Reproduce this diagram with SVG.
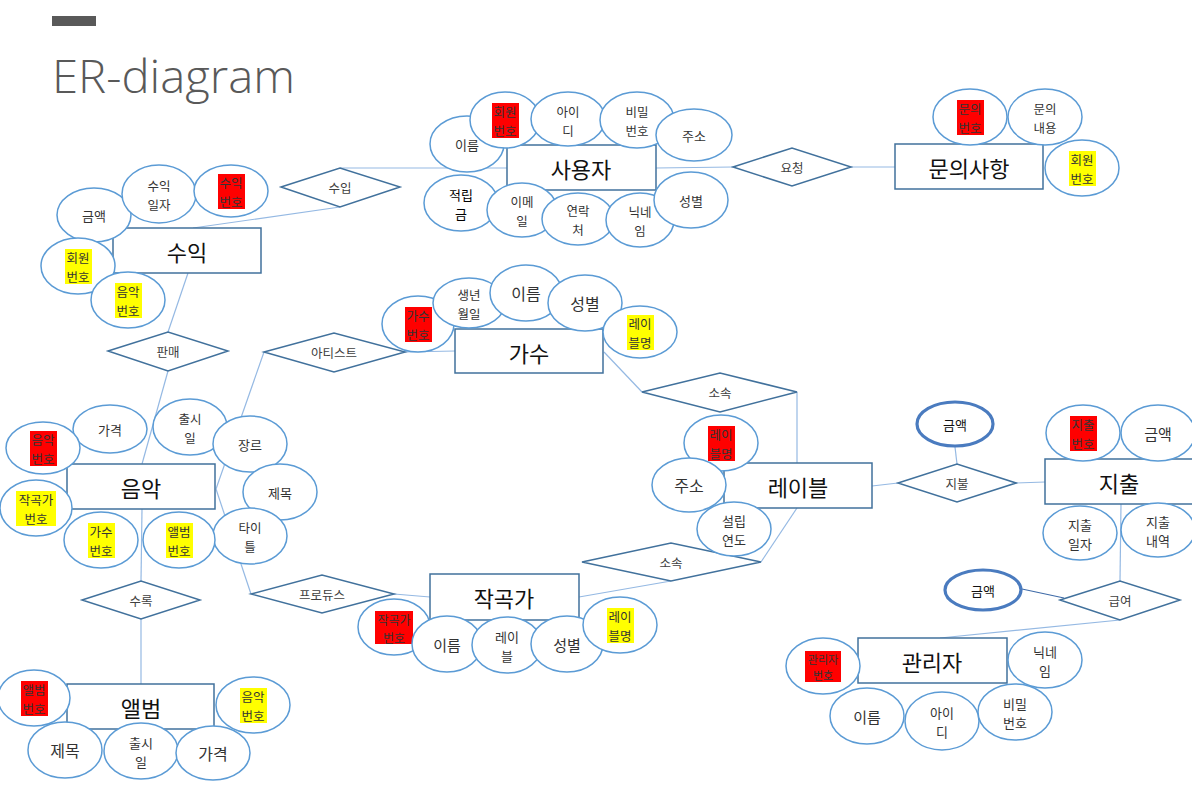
<svg xmlns="http://www.w3.org/2000/svg" width="1192" height="794" viewBox="0 0 1192 794">
<style>
text{font-family:"Noto Sans CJK KR","Noto Sans",sans-serif;text-anchor:middle;dominant-baseline:central}
tspan{dominant-baseline:central}
.ent rect{fill:#fff;stroke:#41719C;stroke-width:1.5}
.ent text{font-size:22px;fill:#111}
.rel polygon{fill:#fff;stroke:#41719C;stroke-width:1.5}
.rel text{font-size:12.5px;fill:#404040}
.att ellipse{fill:#fff;stroke:#5B9BD5;stroke-width:1.5}
.att text{fill:#333}
.att text.two{font-size:12.5px}
.att ellipse.thick{stroke:#4A7BBF;stroke-width:3.2}
.s13 text{font-size:13px}
.s15 text{font-size:15px}
.s16 text{font-size:16px}
.red{fill:#FF0000}
.yel{fill:#FFFF00}
#connectors line{stroke:#95B9E3;stroke-width:1.2}
#connectors line.dark{stroke:#3F6BA8}
</style>
<rect x="0" y="0" width="1192" height="794" fill="#fff"/>
<rect x="52" y="16" width="44" height="10" fill="#595959"/>
<text x="52" y="75" style="text-anchor:start;font-family:'Open Sans','Noto Sans',sans-serif;font-size:46px;font-weight:300;fill:#595959" textLength="243" lengthAdjust="spacingAndGlyphs">ER-diagram</text>

<g id="connectors">
<line x1="340" y1="168" x2="507" y2="168"/>
<line x1="193" y1="228" x2="340" y2="207"/>
<line x1="656" y1="168" x2="733" y2="167"/>
<line x1="851" y1="167" x2="895" y2="167"/>
<line x1="188" y1="273" x2="168" y2="332"/>
<line x1="168" y1="371" x2="142" y2="464"/>
<line x1="405" y1="352" x2="455" y2="351"/>
<line x1="264" y1="352" x2="216" y2="489"/>
<line x1="216" y1="489" x2="251" y2="594"/>
<line x1="394" y1="594" x2="430" y2="597"/>
<line x1="604" y1="352" x2="642" y2="392"/>
<line x1="797" y1="392" x2="797" y2="463"/>
<line x1="797" y1="508" x2="761" y2="562"/>
<line x1="671" y1="581" x2="579" y2="597"/>
<line x1="142" y1="509" x2="141" y2="581"/>
<line x1="141" y1="619" x2="141" y2="684"/>
<line x1="872" y1="486" x2="898" y2="483"/>
<line x1="955" y1="447" x2="957" y2="464"/>
<line x1="1016" y1="483" x2="1045" y2="482"/>
<line x1="1121" y1="504" x2="1120" y2="581"/>
<line class="dark" x1="1022" y1="589" x2="1064" y2="598"/>
<line x1="1120" y1="620" x2="940" y2="638"/>
</g>

<!-- relationships -->
<g id="rel-suip" class="rel"><polygon points="281,187 340,168 400,187 340,207"/><text x="340" y="187">수입</text></g>
<g id="rel-yocheong" class="rel"><polygon points="733,167 792,148 851,167 792,186"/><text x="792" y="167">요청</text></g>
<g id="rel-panmae" class="rel"><polygon points="108,351 168,332 228,351 168,371"/><text x="168" y="351">판매</text></g>
<g id="rel-artist" class="rel"><polygon points="264,352 334,333 405,352 334,372"/><text x="334" y="352">아티스트</text></g>
<g id="rel-sosok1" class="rel"><polygon points="642,392 720,373 797,392 720,412"/><text x="720" y="392">소속</text></g>
<g id="rel-sosok2" class="rel"><polygon points="582,562 671,543 761,562 671,581"/><text x="671" y="562">소속</text></g>
<g id="rel-produce" class="rel"><polygon points="251,594 322,575 394,594 322,613"/><text x="322" y="594">프로듀스</text></g>
<g id="rel-surok" class="rel"><polygon points="82,600 141,581 200,600 141,619"/><text x="141" y="600">수록</text></g>
<g id="rel-jibul" class="rel"><polygon points="898,483 957,464 1016,483 957,502"/><text x="957" y="483">지불</text></g>
<g id="rel-geubyeo" class="rel"><polygon points="1060,600 1120,581 1180,600 1120,620"/><text x="1120" y="600">급여</text></g>

<!-- entities -->
<g id="ent-user" class="ent"><rect x="507" y="145" width="149" height="45"/><text x="581" y="168">사용자</text></g>
<g id="ent-inquiry" class="ent"><rect x="895" y="144" width="148" height="45"/><text x="969" y="167">문의사항</text></g>
<g id="ent-revenue" class="ent"><rect x="113" y="228" width="148" height="45"/><text x="187" y="251">수익</text></g>
<g id="ent-singer" class="ent"><rect x="455" y="329" width="148" height="44"/><text x="529" y="352">가수</text></g>
<g id="ent-music" class="ent"><rect x="67" y="464" width="148" height="45"/><text x="141" y="487">음악</text></g>
<g id="ent-label" class="ent"><rect x="724" y="463" width="148" height="45"/><text x="798" y="486">레이블</text></g>
<g id="ent-expense" class="ent"><rect x="1045" y="459" width="152" height="45"/><text x="1119" y="482">지출</text></g>
<g id="ent-composer" class="ent"><rect x="430" y="574" width="149" height="46"/><text x="504" y="597">작곡가</text></g>
<g id="ent-admin" class="ent"><rect x="858" y="638" width="149" height="45"/><text x="932" y="661">관리자</text></g>
<g id="ent-album" class="ent"><rect x="67" y="684" width="147" height="45"/><text x="141" y="707">앨범</text></g>

<!-- user attributes -->
<g id="user-name" class="att s13"><ellipse cx="467" cy="144" rx="37" ry="28"/><text x="467" y="144">이름</text></g>
<g id="user-id-no" class="att"><ellipse cx="505" cy="120" rx="35" ry="28"/><rect class="red" x="492" y="103" width="27" height="35"/><text class="two" x="505" y="111">회원<tspan x="505" y="129.5">번호</tspan></text></g>
<g id="user-login" class="att"><ellipse cx="568" cy="119" rx="37" ry="27"/><text class="two" x="568" y="111">아이<tspan x="568" y="129.5">디</tspan></text></g>
<g id="user-pw" class="att"><ellipse cx="637" cy="120" rx="37" ry="28"/><text class="two" x="637" y="111">비밀<tspan x="637" y="129.5">번호</tspan></text></g>
<g id="user-addr" class="att s13"><ellipse cx="694" cy="135" rx="38" ry="26"/><text x="694" y="135">주소</text></g>
<g id="user-point" class="att"><ellipse cx="461" cy="203" rx="37" ry="28"/><text class="two" x="461" y="194" style="fill:#000;font-size:13px">적립<tspan x="461" y="213">금</tspan></text></g>
<g id="user-email" class="att"><ellipse cx="522" cy="210" rx="35" ry="27"/><text class="two" x="522" y="201">이메<tspan x="522" y="219.5">일</tspan></text></g>
<g id="user-phone" class="att"><ellipse cx="578" cy="219" rx="36" ry="26"/><text class="two" x="578" y="210">연락<tspan x="578" y="228.5">처</tspan></text></g>
<g id="user-nick" class="att"><ellipse cx="640" cy="220" rx="34" ry="27"/><text class="two" x="640" y="211">닉네<tspan x="640" y="229.5">임</tspan></text></g>
<g id="user-gender" class="att s13"><ellipse cx="691" cy="200" rx="37" ry="28"/><text x="691" y="200">성별</text></g>

<!-- inquiry attributes -->
<g id="inq-no" class="att"><ellipse cx="970" cy="117" rx="37" ry="28"/><rect class="red" x="957" y="100" width="27" height="35"/><text class="two" x="970" y="108">문의<tspan x="970" y="126.5">번호</tspan></text></g>
<g id="inq-content" class="att"><ellipse cx="1045" cy="117" rx="37" ry="28"/><text class="two" x="1045" y="108">문의<tspan x="1045" y="126.5">내용</tspan></text></g>
<g id="inq-member" class="att"><ellipse cx="1082" cy="168" rx="37" ry="28"/><rect class="yel" x="1069" y="151" width="27" height="35"/><text class="two" x="1082" y="159">회원<tspan x="1082" y="177.5">번호</tspan></text></g>

<!-- revenue attributes -->
<g id="rev-amount" class="att s13"><ellipse cx="94" cy="215" rx="37" ry="27"/><text x="94" y="215">금액</text></g>
<g id="rev-date" class="att"><ellipse cx="159" cy="194" rx="37" ry="29"/><text class="two" x="159" y="185">수익<tspan x="159" y="203.5">일자</tspan></text></g>
<g id="rev-no" class="att"><ellipse cx="231" cy="191" rx="37" ry="26"/><rect class="red" x="218" y="174" width="27" height="35"/><text class="two" x="231" y="182">수익<tspan x="231" y="200.5">번호</tspan></text></g>
<g id="rev-member" class="att"><ellipse cx="78" cy="266" rx="37" ry="28"/><rect class="yel" x="65" y="249" width="27" height="35"/><text class="two" x="78" y="257">회원<tspan x="78" y="275.5">번호</tspan></text></g>
<g id="rev-music" class="att"><ellipse cx="128" cy="300" rx="37" ry="28"/><rect class="yel" x="115" y="283" width="27" height="35"/><text class="two" x="128" y="291">음악<tspan x="128" y="309.5">번호</tspan></text></g>

<!-- singer attributes -->
<g id="sing-no" class="att"><ellipse cx="418" cy="324" rx="36" ry="28"/><rect class="red" x="405" y="307" width="27" height="35"/><text class="two" x="418" y="315">가수<tspan x="418" y="333.5">번호</tspan></text></g>
<g id="sing-birth" class="att"><ellipse cx="469" cy="303" rx="36" ry="25"/><text class="two" x="469" y="294">생년<tspan x="469" y="312.5">월일</tspan></text></g>
<g id="sing-name" class="att s16"><ellipse cx="526" cy="293" rx="36" ry="28"/><text x="526" y="293">이름</text></g>
<g id="sing-gender" class="att s16"><ellipse cx="585" cy="303" rx="37" ry="28"/><text x="585" y="303">성별</text></g>
<g id="sing-label" class="att"><ellipse cx="640" cy="332" rx="37" ry="26"/><rect class="yel" x="627" y="315" width="27" height="35"/><text class="two" x="640" y="323">레이<tspan x="640" y="341.5">블명</tspan></text></g>

<!-- music attributes -->
<g id="mus-price" class="att s13"><ellipse cx="110" cy="429" rx="37" ry="24"/><text x="110" y="429">가격</text></g>
<g id="mus-no" class="att"><ellipse cx="43" cy="448" rx="37" ry="26"/><rect class="red" x="30" y="431" width="27" height="35"/><text class="two" x="43" y="439">음악<tspan x="43" y="457.5">번호</tspan></text></g>
<g id="mus-release" class="att"><ellipse cx="190" cy="427" rx="37" ry="28"/><text class="two" x="190" y="418">출시<tspan x="190" y="436.5">일</tspan></text></g>
<g id="mus-genre" class="att s13"><ellipse cx="250" cy="444" rx="37" ry="28"/><text x="250" y="444">장르</text></g>
<g id="mus-title" class="att s13"><ellipse cx="280" cy="492" rx="37" ry="28"/><text x="280" y="492">제목</text></g>
<g id="mus-titletrack" class="att"><ellipse cx="250" cy="536" rx="37" ry="28"/><text class="two" x="250" y="527">타이<tspan x="250" y="545.5">틀</tspan></text></g>
<g id="mus-album" class="att"><ellipse cx="179" cy="540" rx="36" ry="28"/><rect class="yel" x="166" y="523" width="27" height="35"/><text class="two" x="179" y="531">앨범<tspan x="179" y="549.5">번호</tspan></text></g>
<g id="mus-singer" class="att"><ellipse cx="101" cy="540" rx="37" ry="28"/><rect class="yel" x="88" y="523" width="27" height="35"/><text class="two" x="101" y="531">가수<tspan x="101" y="549.5">번호</tspan></text></g>
<g id="mus-composer" class="att"><ellipse cx="36" cy="508" rx="36" ry="28"/><rect class="yel" x="16" y="491" width="40" height="35"/><text class="two" x="36" y="499">작곡가<tspan x="36" y="517.5">번호</tspan></text></g>

<!-- album attributes -->
<g id="alb-no" class="att"><ellipse cx="34" cy="698" rx="36" ry="28"/><rect class="red" x="21" y="681" width="27" height="35"/><text class="two" x="34" y="689">앨범<tspan x="34" y="707.5">번호</tspan></text></g>
<g id="alb-music" class="att"><ellipse cx="253" cy="705" rx="37" ry="28"/><rect class="yel" x="240" y="688" width="27" height="35"/><text class="two" x="253" y="696">음악<tspan x="253" y="714.5">번호</tspan></text></g>
<g id="alb-title" class="att s16"><ellipse cx="65" cy="750" rx="37" ry="28"/><text x="65" y="750">제목</text></g>
<g id="alb-release" class="att"><ellipse cx="141" cy="751" rx="37" ry="28"/><text class="two" x="141" y="742" style="font-size:13px">출시<tspan x="141" y="761">일</tspan></text></g>
<g id="alb-price" class="att s16"><ellipse cx="213" cy="753" rx="37" ry="27"/><text x="213" y="753">가격</text></g>

<!-- label attributes -->
<g id="lab-name" class="att"><ellipse cx="721" cy="443" rx="37" ry="28"/><rect class="red" x="708" y="426" width="27" height="35"/><text class="two" x="721" y="434">레이<tspan x="721" y="452.5">블명</tspan></text></g>
<g id="lab-addr" class="att s16"><ellipse cx="689" cy="485" rx="37" ry="27"/><text x="689" y="485">주소</text></g>
<g id="lab-year" class="att"><ellipse cx="734" cy="529" rx="37" ry="27"/><text class="two" x="734" y="520" style="font-size:13px">설립<tspan x="734" y="539">연도</tspan></text></g>
<g id="pay-amount" class="att s13"><ellipse class="thick" cx="955" cy="424" rx="38" ry="22"/><text x="955" y="424" style="fill:#111">금액</text></g>

<!-- expense attributes -->
<g id="exp-no" class="att"><ellipse cx="1083" cy="433" rx="37" ry="28"/><rect class="red" x="1070" y="416" width="27" height="35"/><text class="two" x="1083" y="424">지출<tspan x="1083" y="442.5">번호</tspan></text></g>
<g id="exp-amount" class="att s15"><ellipse cx="1158" cy="433" rx="37" ry="28"/><text x="1158" y="433">금액</text></g>
<g id="exp-date" class="att"><ellipse cx="1080" cy="533" rx="37" ry="27"/><text class="two" x="1080" y="524" style="font-size:13px">지출<tspan x="1080" y="543">일자</tspan></text></g>
<g id="exp-detail" class="att"><ellipse cx="1158" cy="530" rx="37" ry="27"/><text class="two" x="1158" y="521" style="font-size:13px">지출<tspan x="1158" y="540">내역</tspan></text></g>

<!-- composer attributes -->
<g id="comp-no" class="att"><ellipse cx="394" cy="627" rx="36" ry="28"/><rect class="red" x="375" y="611" width="38" height="33"/><text class="two" x="394" y="619" style="font-size:12px">작곡가<tspan x="394" y="636.5">번호</tspan></text></g>
<g id="comp-name" class="att s15"><ellipse cx="447" cy="644" rx="35" ry="28"/><text x="447" y="644">이름</text></g>
<g id="comp-label" class="att"><ellipse cx="507" cy="645" rx="35" ry="28"/><text class="two" x="507" y="636" style="font-size:13px">레이<tspan x="507" y="655">블</tspan></text></g>
<g id="comp-gender" class="att s15"><ellipse cx="567" cy="644" rx="36" ry="28"/><text x="567" y="644">성별</text></g>
<g id="comp-labelname" class="att"><ellipse cx="620" cy="625" rx="37" ry="28"/><rect class="yel" x="607" y="608" width="27" height="35"/><text class="two" x="620" y="616">레이<tspan x="620" y="634.5">블명</tspan></text></g>

<!-- admin attributes -->
<g id="sal-amount" class="att s13"><ellipse class="thick" cx="983" cy="590" rx="38" ry="20"/><text x="983" y="590" style="fill:#111">금액</text></g>
<g id="adm-no" class="att"><ellipse cx="823" cy="666" rx="37" ry="28"/><rect class="red" x="805" y="651" width="36" height="31"/><text x="823" y="658.5" style="font-size:11px">관리자<tspan x="823" y="674.5">번호</tspan></text></g>
<g id="adm-nick" class="att"><ellipse cx="1045" cy="660" rx="37" ry="28"/><text class="two" x="1045" y="651" style="font-size:13px">닉네<tspan x="1045" y="670">임</tspan></text></g>
<g id="adm-name" class="att s15"><ellipse cx="867" cy="716" rx="37" ry="28"/><text x="867" y="716">이름</text></g>
<g id="adm-login" class="att"><ellipse cx="942" cy="721" rx="37" ry="29"/><text class="two" x="942" y="712" style="font-size:13px">아이<tspan x="942" y="731">디</tspan></text></g>
<g id="adm-pw" class="att"><ellipse cx="1015" cy="712" rx="37" ry="28"/><text class="two" x="1015" y="703" style="font-size:13px">비밀<tspan x="1015" y="722">번호</tspan></text></g>
</svg>
